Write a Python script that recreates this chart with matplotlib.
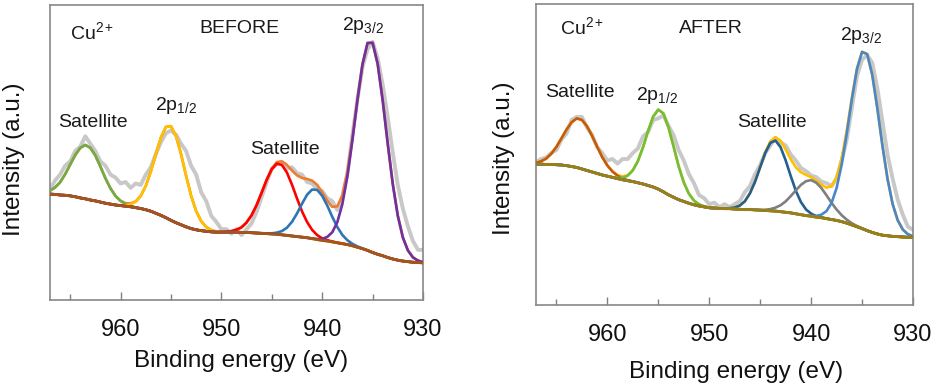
import numpy as np
import matplotlib
matplotlib.use("Agg")
import matplotlib.pyplot as plt

plt.rcParams["font.family"] = ["Liberation Sans", "DejaVu Sans"]
plt.rcParams["mathtext.fontset"] = "custom"
plt.rcParams["mathtext.rm"] = "Liberation Sans"
plt.rcParams["mathtext.it"] = "Liberation Sans:italic"

# binding energy grid (eV), 0.5 eV steps from 967 down to 930
energy = np.linspace(967, 930, 75)

# ---- BEFORE (intensity in fraction of the axis height) ----
before_raw = [
    .375, .405, .425, .455, .47, .505, .52, .555, .53, .505,
    .47, .455, .425, .415, .395, .40, .38, .395, .39, .425,
    .45, .495, .535, .565, .575, .56, .53, .505, .455, .425,
    .365, .335, .285, .265, .24, .24, .225, .24, .22, .24,
    .26, .30, .35, .40, .445, .46, .465, .445, .45, .43,
    .425, .40, .395, .375, .37, .345, .335, .305, .35, .43,
    .56, .68, .79, .85, .875, .82, .73, .62, .50, .39,
    .31, .25, .20, .17, .17]
before_bg = [
    .359, .358, .356, .355, .353, .350, .346, .343, .339, .336,
    .332, .328, .325, .322, .320, .318, .316, .313, .310, .306,
    .301, .294, .287, .279, .270, .262, .255, .248, .242, .238,
    .235, .233, .231, .230, .230, .230, .230, .230, .229, .229,
    .228, .227, .226, .225, .224, .223, .221, .219, .217, .215,
    .213, .211, .208, .205, .202, .200, .197, .194, .191, .188,
    .184, .179, .174, .168, .161, .155, .150, .144, .139, .135,
    .132, .130, .128, .127, .126]
before_center = [963.4, 955.1, 944.3, 940.7, 935.2]
before_height = [0.183, 0.32, 0.241, 0.17, 0.717]
before_fwhm = [3.6, 3.4, 3.8, 3.4, 3.6]
before_colors = ["#70ad47", "#ffc000", "#ff0000", "#2e75b6", "#7030a0"]

# ---- AFTER ----
after_raw = [
    .475, .485, .49, .505, .515, .55, .57, .615, .625, .625,
    .59, .565, .525, .505, .48, .485, .47, .485, .485, .505,
    .52, .56, .575, .615, .62, .63, .595, .565, .515, .48,
    .435, .405, .365, .355, .335, .34, .325, .335, .325, .335,
    .345, .375, .395, .435, .465, .505, .53, .555, .54, .53,
    .50, .48, .455, .445, .43, .425, .41, .405, .395, .42,
    .48, .55, .655, .76, .815, .83, .805, .72, .61, .50,
    .42, .35, .30, .26, .25]
after_bg = [
    .468, .468, .467, .467, .466, .465, .463, .460, .457, .452,
    .447, .442, .437, .432, .428, .424, .420, .416, .413, .410,
    .406, .402, .397, .392, .385, .376, .366, .358, .350, .344,
    .338, .333, .329, .326, .323, .322, .321, .320, .320, .319,
    .318, .317, .317, .316, .315, .314, .313, .312, .310, .308,
    .306, .303, .300, .297, .295, .292, .290, .287, .284, .281,
    .277, .272, .266, .260, .254, .247, .241, .236, .232, .230,
    .228, .227, .226, .225, .225]
after_center = [962.75, 954.8, 943.6, 940.0, 934.75]
after_height = [0.165, 0.267, 0.235, 0.12, 0.595]
after_fwhm = [3.7, 3.2, 3.3, 3.8, 3.5]
after_colors = ["#c55a11", "#70bf3a", "#255e91", "#7f7f7f", "#4a86c8"]

sub = lambda s: r"2p$_{\mathregular{" + s + "}}$"


def gauss(x, c, h, w):
    s = w / 2.3548
    return h * np.exp(-0.5 * ((x - c) / s) ** 2)


def panel(ax, raw, bg, centers, heights, fwhms, colors, env_color, bg_color, labels):
    bg = np.array(bg)
    ax.plot(energy, raw, color="#c8c8c8", lw=2.8, zorder=1)
    comps = [gauss(energy, c, h, w) for c, h, w in zip(centers, heights, fwhms)]
    ax.plot(energy, bg + np.sum(comps, axis=0), color=env_color, lw=1.9, zorder=2)
    for comp, col in zip(comps, colors):
        ax.plot(energy, bg + comp, color=col, lw=1.9, zorder=3)
    ax.plot(energy, bg, color=bg_color, lw=2.1, zorder=4)

    for x, y, txt, ha in labels:
        ax.text(x, y, txt, ha=ha, va="baseline", fontsize=14, color="#1a1a1a")

    ax.set_xlim(967, 930)
    ax.set_ylim(0, 1)
    ax.set_yticks([])
    ax.set_xticks([960, 950, 940, 930])
    ax.set_xticks([965, 955, 945, 935], minor=True)
    ax.tick_params(axis="x", which="both", direction="in", colors="#808080",
                   labelcolor="#111111", labelsize=17, pad=14)
    ax.tick_params(axis="x", which="major", length=6, width=1)
    ax.tick_params(axis="x", which="minor", length=4.5, width=1)
    for sp in ax.spines.values():
        sp.set_color("#888888")
        sp.set_linewidth(1.2)
    ax.set_xlabel("Binding energy (eV)", fontsize=17.5, color="#111111")
    ax.set_ylabel("Intensity (a.u.)", fontsize=17.5, color="#111111")


fig = plt.figure(figsize=(9.37, 3.87), dpi=100)
ax1 = fig.add_axes([50 / 937, 87 / 387, 373 / 937, 295 / 387])
ax2 = fig.add_axes([536 / 937, 82 / 387, 377 / 937, 301 / 387])

panel(ax1, before_raw, before_bg, before_center, before_height, before_fwhm,
      before_colors, "#ed7d31", "#a5541a",
      [(965.0, 0.885, "Cu$^{\\mathregular{2+}}$", "left"),
       (948.25, 0.905, "BEFORE", "center"),
       (935.95, 0.915, sub("3/2"), "center"),
       (954.5, 0.644, sub("1/2"), "center"),
       (962.7, 0.588, "Satellite", "center"),
       (943.7, 0.495, "Satellite", "center")])
panel(ax2, after_raw, after_bg, after_center, after_height, after_fwhm,
      after_colors, "#ffc000", "#9c7f12",
      [(964.6, 0.900, "Cu$^{\\mathregular{2+}}$", "left"),
       (949.8, 0.905, "AFTER", "center"),
       (935.1, 0.880, sub("3/2"), "center"),
       (955.1, 0.681, sub("1/2"), "center"),
       (962.7, 0.692, "Satellite", "center"),
       (943.8, 0.592, "Satellite", "center")])

ax1.xaxis.set_label_coords(0.512, -0.17)
ax2.xaxis.set_label_coords(0.53, -0.185)
ax1.yaxis.set_label_coords(-0.067, 0.478)
ax2.yaxis.set_label_coords(-0.056, 0.488)
for ax in (ax1, ax2):
    ax.xaxis.label.set_va("top")

fig.savefig("out.png", dpi=100, facecolor="white")
